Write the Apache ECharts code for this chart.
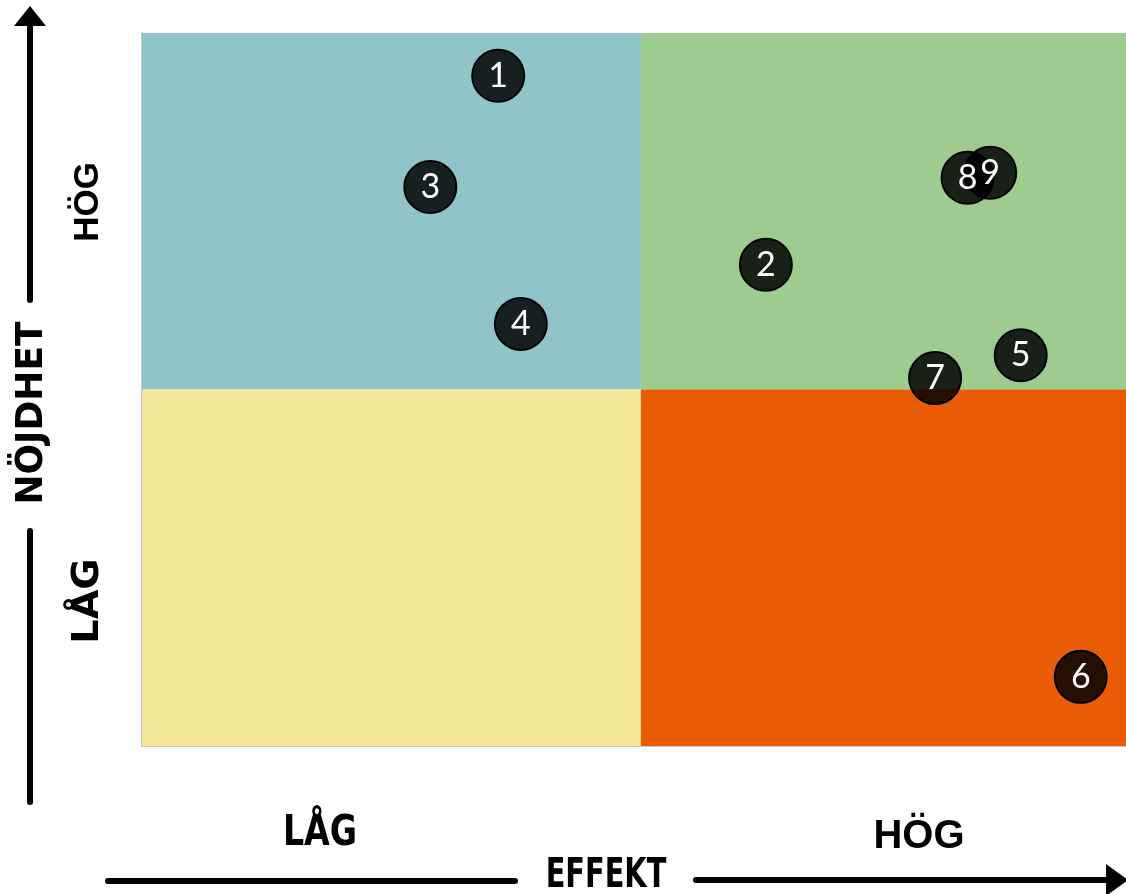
<!DOCTYPE html>
<html>
<head>
<meta charset="utf-8">
<script src="https://cdn.jsdelivr.net/npm/echarts@6/dist/echarts.min.js"></script>
<style>
  html, body { margin: 0; padding: 0; background: #fff; }
  #main { width: 1126px; height: 894px; }
</style>
</head>
<body>
<div id="main"></div>
<script>
// points (effekt = x, nöjdhet = y, scale 0..100)
var pointNames = ['1', '2', '3', '4', '5', '6', '7', '8', '9'];
var effekt = [36.2, 63.4, 29.3, 38.5, 89.3, 95.4, 80.6, 83.9, 86.2];
var nojdhet = [94.0, 67.5, 78.4, 59.2, 54.8, 9.7, 51.6, 79.7, 80.4];

// quadrant split
var splitX = 50.7;
var splitY = 50;
var quadColors = ['#8fc4c8', '#9ecb8f', '#f5e699', '#e95b04'];

var myChart = echarts.init(document.getElementById('main'));

var points = pointNames.map(function (n, i) {
  return { name: n, value: [effekt[i], nojdhet[i]] };
});

var narrowFont = '"Liberation Sans Narrow", "DejaVu Sans Condensed", sans-serif';

var option = {
  animation: false,
  grid: {
    left: 142,
    right: 0,
    top: 33,
    bottom: 148
  },
  xAxis: {
    type: 'value',
    min: 0,
    max: 100,
    axisLine: { show: true, lineStyle: { color: '#c9c9c9', width: 2 } },
    axisTick: { show: false },
    axisLabel: { show: false },
    splitLine: { show: false }
  },
  yAxis: {
    type: 'value',
    min: 0,
    max: 100,
    axisLine: { show: true, lineStyle: { color: '#c9c9c9', width: 2 } },
    axisTick: { show: false },
    axisLabel: { show: false },
    splitLine: { show: false }
  },
  series: [
    {
      type: 'scatter',
      symbolSize: 52,
      itemStyle: {
        color: 'rgba(0,0,0,0.84)',
        borderColor: '#000',
        borderWidth: 2,
        opacity: 1
      },
      label: {
        show: true,
        position: 'inside',
        formatter: '{b}',
        color: '#fff',
        fontSize: 34,
        fontFamily: 'Lato, "Open Sans", sans-serif'
      },
      emphasis: { disabled: true },
      markArea: {
        silent: true,
        data: [
          [{ coord: [0, splitY], itemStyle: { color: quadColors[0] } }, { coord: [splitX, 100] }],
          [{ coord: [splitX, splitY], itemStyle: { color: quadColors[1] } }, { coord: [100, 100] }],
          [{ coord: [0, 0], itemStyle: { color: quadColors[2] } }, { coord: [splitX, splitY] }],
          [{ coord: [splitX, 0], itemStyle: { color: quadColors[3] } }, { coord: [100, splitY] }]
        ]
      },
      data: points
    }
  ],
  graphic: [
    // vertical arrow
    { type: 'line', shape: { x1: 30, y1: 22, x2: 30, y2: 300 }, style: { stroke: '#000', lineWidth: 6, lineCap: 'round' } },
    { type: 'polygon', shape: { points: [[14, 26], [46, 26], [30, 6]] }, style: { fill: '#000' } },
    { type: 'line', shape: { x1: 30, y1: 531, x2: 30, y2: 802 }, style: { stroke: '#000', lineWidth: 6, lineCap: 'round' } },
    { type: 'text', x: 32, y: 413, rotation: Math.PI / 2, scaleX: 1.08,
      style: { text: 'NÖJDHET', font: 'bold 37px ' + narrowFont, fill: '#000', align: 'center', verticalAlign: 'middle' } },
    { type: 'text', x: 88, y: 202, rotation: Math.PI / 2,
      style: { text: 'HÖG', font: 'bold 35px "Liberation Sans", sans-serif', fill: '#000', align: 'center', verticalAlign: 'middle' } },
    { type: 'text', x: 88, y: 601, rotation: Math.PI / 2, scaleX: 1.15,
      style: { text: 'LÅG', font: 'bold 37px ' + narrowFont, fill: '#000', align: 'center', verticalAlign: 'middle' } },
    // horizontal arrow
    { type: 'line', shape: { x1: 108, y1: 881, x2: 515, y2: 881 }, style: { stroke: '#000', lineWidth: 6, lineCap: 'round' } },
    { type: 'line', shape: { x1: 696, y1: 880, x2: 1112, y2: 880 }, style: { stroke: '#000', lineWidth: 6, lineCap: 'round' } },
    { type: 'polygon', shape: { points: [[1106, 864], [1106, 896], [1128, 880]] }, style: { fill: '#000' } },
    { type: 'text', x: 606, y: 877, scaleX: 0.8,
      style: { text: 'EFFEKT', font: 'bold 40px ' + narrowFont, fill: '#000', align: 'center', verticalAlign: 'middle' } },
    { type: 'text', x: 320, y: 834, scaleX: 0.88,
      style: { text: 'LÅG', font: 'bold 42px ' + narrowFont, fill: '#000', align: 'center', verticalAlign: 'middle' } },
    { type: 'text', x: 919, y: 837,
      style: { text: 'HÖG', font: 'bold 40px "Liberation Sans", Arial, sans-serif', fill: '#000', align: 'center', verticalAlign: 'middle' } }
  ]
};

option && myChart.setOption(option);
</script>
</body>
</html>
